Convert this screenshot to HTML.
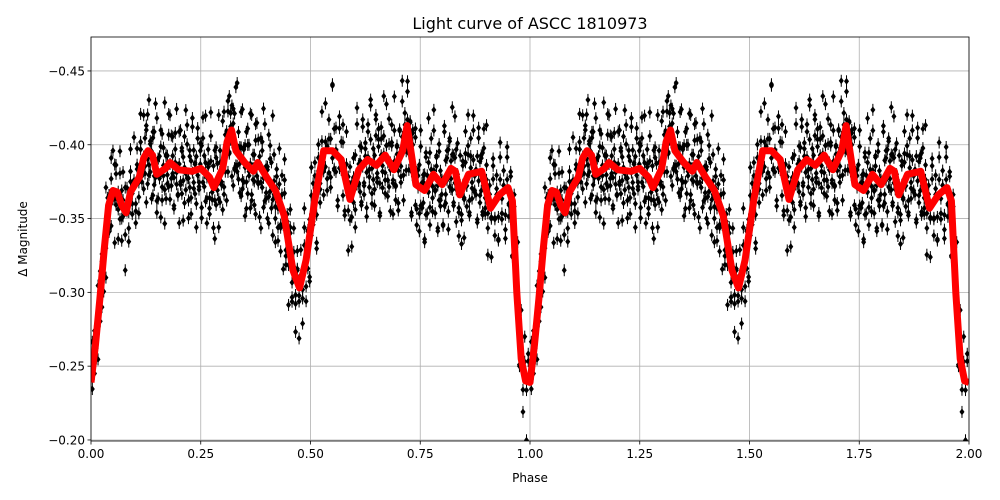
<!DOCTYPE html>
<html><head><meta charset="utf-8"><style>
body{margin:0;background:#fff;}
svg{display:block;font-family:"DejaVu Sans","Liberation Sans",sans-serif;}
</style></head><body>
<svg id="chart" width="1000" height="500" viewBox="0 0 1000 500"></svg>
<script>
// ---- data ----
const curvePhase=[0,0.01,0.02,0.03,0.04,0.05,0.06,0.07,0.08,0.09,0.10,0.11,0.12,0.13,0.14,0.15,0.17,0.18,0.20,0.23,0.25,0.27,0.28,0.30,0.31,0.32,0.33,0.35,0.37,0.38,0.40,0.42,0.44,0.46,0.475,0.49,0.51,0.53,0.55,0.57,0.59,0.61,0.63,0.65,0.67,0.69,0.71,0.72,0.74,0.76,0.78,0.80,0.82,0.83,0.84,0.86,0.89,0.91,0.93,0.95,0.96,0.97,0.98,0.99,1.00];
const curveMag=[-0.239,-0.264,-0.295,-0.329,-0.359,-0.369,-0.368,-0.359,-0.354,-0.368,-0.373,-0.378,-0.391,-0.396,-0.393,-0.380,-0.384,-0.388,-0.383,-0.382,-0.384,-0.378,-0.371,-0.384,-0.402,-0.410,-0.396,-0.388,-0.382,-0.388,-0.378,-0.369,-0.352,-0.315,-0.303,-0.322,-0.363,-0.396,-0.396,-0.390,-0.363,-0.383,-0.390,-0.386,-0.393,-0.383,-0.396,-0.413,-0.373,-0.369,-0.380,-0.373,-0.384,-0.382,-0.366,-0.380,-0.382,-0.357,-0.366,-0.371,-0.362,-0.300,-0.255,-0.240,-0.239];
const scatterPhase=[0.003,0.008,0.012,0.016,0.021,0.025,0.029,0.034,0.038,0.041,0.046,0.05,0.054,0.057,0.062,0.066,0.07,0.073,0.078,0.082,0.086,0.09,0.094,0.098,0.102,0.105,0.109,0.113,0.116,0.12,0.123,0.126,0.129,0.132,0.135,0.138,0.141,0.144,0.147,0.15,0.153,0.156,0.159,0.162,0.165,0.168,0.171,0.174,0.177,0.18,0.183,0.186,0.189,0.192,0.195,0.198,0.201,0.204,0.207,0.21,0.213,0.216,0.219,0.222,0.225,0.228,0.231,0.234,0.237,0.24,0.243,0.246,0.249,0.252,0.255,0.258,0.261,0.264,0.267,0.27,0.273,0.276,0.279,0.282,0.285,0.288,0.291,0.294,0.297,0.3,0.303,0.306,0.309,0.312,0.315,0.318,0.321,0.324,0.327,0.33,0.333,0.336,0.339,0.342,0.345,0.348,0.351,0.354,0.357,0.36,0.363,0.366,0.369,0.372,0.375,0.378,0.381,0.384,0.387,0.39,0.393,0.396,0.399,0.402,0.405,0.408,0.411,0.414,0.417,0.42,0.423,0.426,0.429,0.432,0.435,0.438,0.441,0.444,0.447,0.45,0.454,0.458,0.462,0.466,0.47,0.474,0.478,0.482,0.486,0.49,0.494,0.498,0.502,0.506,0.51,0.514,0.518,0.522,0.526,0.53,0.534,0.538,0.542,0.546,0.55,0.554,0.558,0.562,0.566,0.57,0.574,0.578,0.582,0.586,0.59,0.594,0.598,0.602,0.606,0.61,0.613,0.616,0.619,0.622,0.625,0.628,0.631,0.634,0.637,0.64,0.643,0.646,0.649,0.652,0.655,0.658,0.661,0.664,0.667,0.67,0.673,0.676,0.679,0.682,0.685,0.688,0.691,0.694,0.697,0.7,0.703,0.706,0.709,0.712,0.715,0.718,0.721,0.724,0.727,0.73,0.733,0.736,0.739,0.742,0.745,0.748,0.751,0.754,0.757,0.76,0.763,0.766,0.769,0.772,0.775,0.778,0.781,0.784,0.787,0.79,0.793,0.796,0.799,0.802,0.805,0.808,0.811,0.814,0.817,0.82,0.823,0.826,0.829,0.832,0.835,0.838,0.841,0.844,0.847,0.85,0.853,0.856,0.859,0.862,0.865,0.868,0.871,0.874,0.877,0.88,0.883,0.886,0.889,0.892,0.895,0.898,0.901,0.904,0.908,0.912,0.916,0.92,0.924,0.928,0.932,0.936,0.94,0.944,0.948,0.952,0.956,0.96,0.964,0.968,0.972,0.976,0.98,0.984,0.988,0.992,0.996];
// deviations from curve in millimag (positive = fainter)
const scatterDevA=[12,-15,8,-22,18,-9,25,-30,14,-6,20,-27,5,-12,30,-18,9,-24,16,-4,28,-14,3,-33,19,-8,24,-20,11,-29,7,-16,22,-35,13,-2,26,-21,6,-38,17,-11,31,-25,4,-45,21,-7,15,-32,10,-19,27,-3,-40,18,-26,8,-13,34,-23,2,-31,20,-10,29,-36,12,-5,23,-28,9,-17,33,-22,1,-39,16,-8,25,-30,11,-14,36,-24,7,-42,19,-3,28,-33,13,-9,22,-27,5,-18,32,-21,10,-47,17,-6,26,-34,14,-12,30,-25,3,-37,21,-2,24,-29,8,-16,35,-20,12,-43,18,-7,27,-31,6,-15,33,-23,11,-4,29,-36,15,-10,38,-26,20,-14,42,-18,25,-30,12,-8,35,-22,16,-40,28,-12,31,-19,9,-25,40,-15,22,-33,14,-6,27,-21,18,-44,11,-3,30,-28,7,-17,24,-35,13,-9,36,-20,19,-46,10,-5,26,-31,15,-13,32,-24,6,-38,21,-1,28,-34,12,-16,37,-22,9,-41,17,-8,25,-29,4,-14,31,-26,14,-11,34,-19,8,-48,20,-4,27,-32,11,-17,39,-23,5,-36,16,-7,30,-28,13,-10,35,-21,2,-44,18,-6,24,-30,9,-15,33,-25,12,-3,29,-37,17,-12,26,-20,7,-42,22,-9,31,-27,15,-5,36,-18,10,-34,19,-14,28,-24,6,-39,13,-2,32,-30,16,-11,25,-22,8,-45,21,-7,34,-26,11,-16,30,-35,14,-4,27,-21,18,-13,38,-29,9,-8,23,-33,15,-10,40,-19,26,-28,12,-6,35,-24,30];
const scatterDevB=[-20,14,-7,28,-16,22,-3,31,-11,19,-26,6,35,-18,10,-33,24,-5,40,-14,8,-29,17,-2,27,-22,13,-39,4,21,-12,33,-25,9,-6,30,-17,15,-44,26,-10,3,-28,20,-15,37,-8,12,-34,25,-19,6,29,-23,11,-1,36,-27,16,-9,22,-41,5,32,-14,18,-30,8,-4,39,-21,14,-12,26,-36,10,-7,33,-18,21,-46,2,28,-24,15,-11,34,-16,7,-32,23,-5,38,-26,12,-13,30,-20,17,-43,9,-3,25,-31,14,-8,36,-22,19,-15,27,-37,6,-10,32,-28,13,-2,41,-19,24,-34,11,-6,29,-25,16,-48,4,35,-17,20,-12,31,-23,8,-40,26,-9,15,-30,22,-14,37,-21,10,-5,33,-27,18,-11,28,-38,7,-16,36,-24,13,-3,30,-32,19,-8,25,-45,12,-18,34,-20,5,-29,27,-13,40,-22,16,-7,31,-35,9,-15,24,-26,21,-4,38,-19,11,-42,28,-10,17,-31,6,-23,35,-14,20,-2,26,-36,14,-12,32,-28,8,-49,23,-6,29,-18,15,-34,37,-9,10,-25,22,-16,41,-21,4,-30,27,-11,18,-39,13,-5,33,-24,19,-14,30,-27,7,-44,25,-8,35,-20,16,-3,28,-33,11,-17,38,-22,14,-10,24,-37,9,-6,31,-26,20,-15,36,-19,5,-41,26,-12,17,-29,12,-2,34,-23,21,-9,27,-35,15,-18,39,-13,8,-31,23,-7,29,-25,18,-4,33,-28,10,-16,37,-21,13,-43,22,-11,30,-27,6,-14,32,-24,-20,16];
const scatterDevC=[4,-9,15,-3,8,-14,1,11,-6,17,-12,5,-18,9,-2,13,-10,6,-16,2,19,-7,10,-4,14,-11,3,-15,7,-1,12,-19,5,16,-8,2,-13,9,-5,18,-10,4,-17,11,-3,14,-9,6,-20,1,15,-6,8,-12,3,17,-4,10,-15,7,-2,13,-18,5,11,-7,1,-14,16,-9,4,12,-3,-16,8,-11,19,2,-6,14,-13,6,-1,10,-17,3,15,-8,9,-5,18,-12,1,-19,11,-4,7,-10,16,-2,13,-15,5,-7,20,-9,3,12,-14,6,-3,17,-11,8,-18,1,14,-6,10,-13,4,-2,15,-8,11,-16,2,9,-5,19,-12,7,-1,13,-10,3,-17,16,-7,5,-14,12,-4,18,-9,6,-2,10,-15,1,14,-11,8,-19,4,17,-6,9,-13,2,11,-3,15,-8,5,-16,12,-1,7,-12,19,-5,3,-10,14,-7,10,-18,6,-4,16,-13,1,13,-9,8,-2,18,-15,4,11,-6,-20,9,-11,15,-3,5,-14,12,-8,2,17,-1,-16,10,-5,13,-12,7,-3,19,-10,3,-17,14,-6,8,-2,11,-13,5,16,-9,1,-15,12,-4,9,-11,18,-7,6,-19,2,15,-3,10,-14,4,13,-8,7,-1,17,-12,3,-16,11,-5,14,-10,8,-18,1,12,-6,16,-2,9,-13,5,-20,18,-4,10,-9,2,15,-11,6,-7,13,-15,3,19,-8,11,-1,7,-17,12,-3,14,-10,4,-14,17,-6,9,-2,16,-12,1];
const xTicks=[0,0.25,0.5,0.75,1.0,1.25,1.5,1.75,2.0];
const xTickLabels=["0.00","0.25","0.50","0.75","1.00","1.25","1.50","1.75","2.00"];
const yTicks=[-0.45,-0.40,-0.35,-0.30,-0.25,-0.20];
const yTickLabels=["\u22120.45","\u22120.40","\u22120.35","\u22120.30","\u22120.25","\u22120.20"];

// ---- layout ----
const L=91,R=969,T=37,B=441;
const xMin=0,xMax=2,yTop=-0.473,yBot=-0.1993;
function xs(v){return L+(v-xMin)/(xMax-xMin)*(R-L);}
function ys(v){return T+(v-yTop)/(yBot-yTop)*(B-T);}
const NS="http://www.w3.org/2000/svg";
const svg=document.getElementById('chart');
function mk(tag,attrs,parent){const e=document.createElementNS(NS,tag);for(const k in attrs)e.setAttribute(k,attrs[k]);(parent||svg).appendChild(e);return e;}
function interp(p){for(let i=1;i<curvePhase.length;i++){if(p<=curvePhase[i]){const t=(p-curvePhase[i-1])/(curvePhase[i]-curvePhase[i-1]);return curveMag[i-1]+t*(curveMag[i]-curveMag[i-1]);}}return curveMag[curveMag.length-1];}

const grid=mk('g',{});


xTicks.forEach(v=>{mk('line',{x1:xs(v),x2:xs(v),y1:T,y2:B,stroke:'#b0b0b0','stroke-width':0.8},grid);});
yTicks.forEach(v=>{mk('line',{x1:L,x2:R,y1:ys(v),y2:ys(v),stroke:'#b0b0b0','stroke-width':0.8},grid);});

const defs=mk('defs',{});
const cp=mk('clipPath',{id:'clip'},defs);
mk('rect',{x:L,y:T,width:R-L,height:B-T},cp);

const sc=mk('g',{'clip-path':'url(#clip)'});


[0,1].forEach(off=>{
  [scatterDevA,scatterDevB,scatterDevC].forEach(dev=>{
    const n=Math.min(scatterPhase.length,dev.length);
    for(let i=0;i<n;i++){
      const p=scatterPhase[i];
      const m=interp(p)+dev[i]/1000;
      const x=xs(p+off),y=ys(m);
      mk('line',{x1:x,x2:x,y1:y-6,y2:y+6,stroke:'#000','stroke-width':1},sc);
      mk('path',{d:`M${x} ${y-3.5}L${x+2.5} ${y}L${x} ${y+3.5}L${x-2.5} ${y}Z`,fill:'#000'},sc);
    }
  });
});

let d='';
[0,1].forEach(off=>{curvePhase.forEach((p,i)=>{if(off===1&&i===0)return;d+=(d?'L':'M')+xs(p+off).toFixed(1)+' '+ys(curveMag[i]).toFixed(1);});});
const curve=mk('path',{d:d,fill:'none',stroke:'#ff0000','stroke-width':7,'stroke-linejoin':'round','clip-path':'url(#clip)'});



const frame=mk('rect',{x:L,y:T,width:R-L,height:B-T,fill:'none',stroke:'#000','stroke-width':0.8});



const xt=mk('g',{});


xTicks.forEach((v,i)=>{
  mk('line',{x1:xs(v),x2:xs(v),y1:B,y2:B+3.5,stroke:'#000','stroke-width':0.8},xt);
  const t=mk('text',{x:xs(v),y:B+17,'text-anchor':'middle','font-size':12},xt);t.textContent=xTickLabels[i];
});
const yt=mk('g',{});


yTicks.forEach((v,i)=>{
  mk('line',{x1:L-3.5,x2:L,y1:ys(v),y2:ys(v),stroke:'#000','stroke-width':0.8},yt);
  const t=mk('text',{x:L-6,y:ys(v)+4.5,'text-anchor':'end','font-size':12},yt);t.textContent=yTickLabels[i];
});

const title=mk('text',{x:(L+R)/2,y:29,'text-anchor':'middle','font-size':16});
title.textContent='Light curve of ASCC 1810973';


const xl=mk('text',{x:(L+R)/2,y:482,'text-anchor':'middle','font-size':12});
xl.textContent='Phase';


const yl=mk('text',{x:0,y:0,'text-anchor':'middle','font-size':12,transform:`translate(27,${(T+B)/2}) rotate(-90)`});
yl.textContent='\u0394 Magnitude';


</script>
</body></html>
